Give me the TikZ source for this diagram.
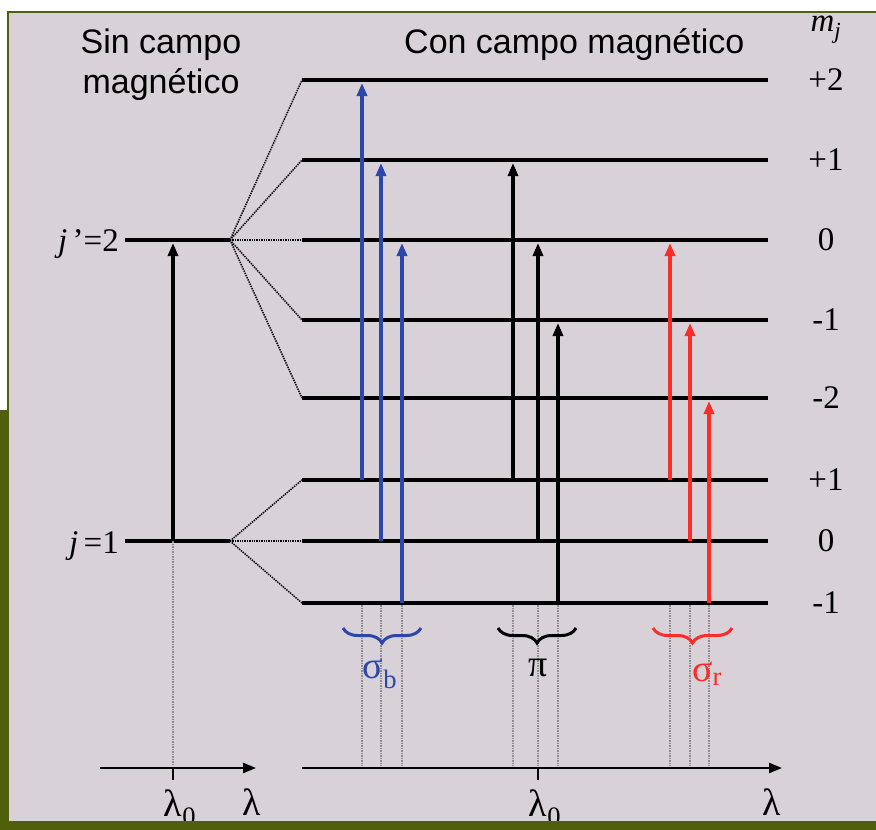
\documentclass[tikz,border=0pt]{standalone}
\usepackage{fontspec}
\setmainfont{Liberation Serif}
\newfontfamily\sansf{Liberation Sans}
\usetikzlibrary{arrows.meta,decorations.pathreplacing}
\definecolor{olv}{RGB}{80,96,10}
\definecolor{bgc}{RGB}{216,209,216}
\definecolor{bl}{RGB}{45,70,170}
\definecolor{rd}{RGB}{250,45,40}
\begin{document}
\begin{tikzpicture}[x=1pt,y=-1pt,
  level/.style={line width=4.8pt},
  split/.style={line width=1.5pt, dash pattern=on 1.4pt off 1pt},
  trans/.style={line width=3.3pt,-{Triangle[length=13pt,width=10pt]}},
  guide/.style={black!45, line width=1.1pt, dash pattern=on 1.5pt off 1pt},
  lbl/.style={font=\fontsize{33}{36}\selectfont, inner sep=0pt},
  grk/.style={font=\fontsize{38}{40}\selectfont, inner sep=0pt},
  ttl/.style={font=\sansf\fontsize{34}{40}\selectfont, align=center, inner sep=0pt},
  brc/.style={line width=3pt, decorate, decoration={brace, amplitude=15pt}},
  axis/.style={line width=2.2pt, -{Triangle[length=13pt,width=10pt]}}]
\useasboundingbox (0,0) rectangle (876,830);
\fill[white] (0,0) rectangle (876,830);
\fill[bgc] (9,13) rectangle (876,821);
\draw[olv, line width=2.5pt] (8,410) -- (8,12) -- (876,12);
\fill[olv] (0,410) rectangle (9,830);

% titles
\node[ttl] (t1) at (161,65) {Sin campo\\magnético};
\node[ttl, anchor=west] (t2) at (404,45) {Con campo magnético};
\node[lbl] (mj) at (826,30) {\textit{m}\textsubscript{\textit{j}}};

% unsplit levels
\coordinate (U0) at (125,240); \coordinate (U1) at (230,240);
\coordinate (L0) at (125,541); \coordinate (L1) at (230,541);
\draw[level] (U0) -- (U1);
\draw[level] (L0) -- (L1);
\node[lbl, anchor=east] (jp) at (119,244) {\textit{j}\,’=2};
\node[lbl, anchor=east] (jj) at (119,546) {\textit{j}\,=1};

% split levels
\foreach \n/\y/\t in {a/80/+2, b/160/+1, c/240/0, d/320/-1, e/398/-2}{
  \coordinate (S\n) at (302,\y); \coordinate (E\n) at (768,\y);
  \draw[level] (S\n) -- (E\n);
  \draw[split] (U1) -- (S\n);
  \node[lbl] (m\n) at (826,\y) {\t};
}
\foreach \n/\y/\t in {f/480/+1, g/541/0, h/603/-1}{
  \coordinate (S\n) at (302,\y); \coordinate (E\n) at (768,\y);
  \draw[level] (S\n) -- (E\n);
  \draw[split] (L1) -- (S\n);
  \node[lbl] (m\n) at (826,\y) {\t};
}

% axes
\coordinate (A0) at (100,768); \coordinate (A1) at (256,768);
\coordinate (B0) at (302,768); \coordinate (B1) at (782,768);
\draw[axis] (A0) -- (A1);
\draw[axis] (B0) -- (B1);
\draw[line width=2.2pt] (173,768) -- (173,780);
\draw[line width=2.2pt] (538,768) -- (538,780);

% guides
\coordinate (g0) at (173,541);
\draw[guide] (g0) -- (173,766);
\foreach \x in {362,381,402,513,538,558,670,690,709}{
  \draw[guide] (\x,605) -- (\x,766);
}

% transitions
\draw[trans] (173,541) -- (173,243);
\draw[trans, bl] (362,480) -- (362,83);
\draw[trans, bl] (381,541) -- (381,163);
\draw[trans, bl] (402,603) -- (402,243);
\draw[trans] (513,480) -- (513,163);
\draw[trans] (538,541) -- (538,243);
\draw[trans] (558,603) -- (558,323);
\draw[trans, rd] (670,480) -- (670,243);
\draw[trans, rd] (690,541) -- (690,323);
\draw[trans, rd] (709,603) -- (709,401);

% braces
\draw[brc, bl] (421,628) -- (343,628);
\draw[brc] (576,628) -- (498,628);
\draw[brc, rd] (732,628) -- (653,628);
\node[grk, bl] (sb) at (380,674) {σ\textsubscript{b}};
\node[grk] (pi) at (538,668) {π};
\node[grk, rd] (sr) at (707,674) {σ\textsubscript{r}};

% lambda labels
\node[grk] (la0) at (180,808) {λ\textsubscript{0}};
\node[grk] (la) at (252,802) {λ};
\node[grk] (lb0) at (545,808) {λ\textsubscript{0}};
\node[grk] (lb) at (772,802) {λ};

\fill[olv] (0,821) rectangle (876,830);
\end{tikzpicture}
\end{document}
